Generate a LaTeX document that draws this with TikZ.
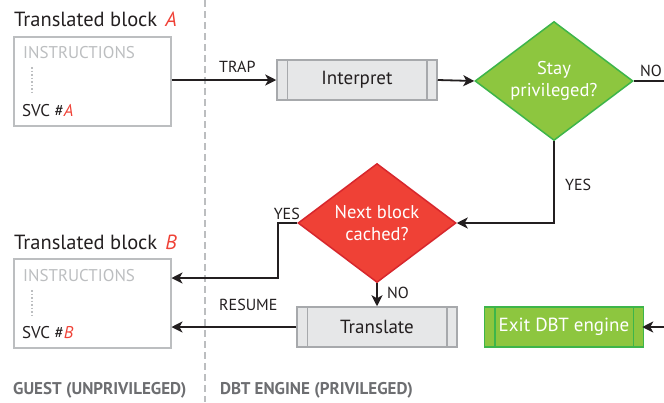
\documentclass[tikz,border=0pt]{standalone}
\usepackage{fontspec}
\setmainfont{PT Sans}
\usetikzlibrary{arrows.meta,shapes.geometric}
\definecolor{ink}{HTML}{231F20}
\definecolor{boxgray}{HTML}{BCBEC0}
\definecolor{procfill}{HTML}{E6E7E8}
\definecolor{procline}{HTML}{A7A9AC}
\definecolor{grn}{HTML}{8DC63F}
\definecolor{grnline}{HTML}{3DB54A}
\definecolor{rd}{HTML}{EF4136}
\definecolor{rdline}{HTML}{D7272D}
\definecolor{lbl}{HTML}{6D6E71}
\definecolor{accent}{HTML}{EF4136}
\tikzset{
  conn/.style={draw=ink, line width=1.8pt},
  arr/.style={conn, -{Stealth[length=11pt,width=11pt,inset=3pt]}},
  blockbox/.style={draw=boxgray, line width=1.5pt, minimum width=157pt, minimum height=89pt, inner sep=0pt},
  proc/.style={draw=procline, fill=procfill, line width=1.5pt, minimum width=160pt, minimum height=40pt, inner sep=0pt, font=\fontsize{19}{21}\selectfont, text=ink},
  exitbox/.style={draw=grnline, fill=grn, line width=1.5pt, minimum width=159pt, minimum height=40pt, inner sep=0pt, font=\fontsize{19}{21}\selectfont, text=white},
  dec/.style={diamond, aspect=1.33, inner sep=0pt, minimum width=158pt, minimum height=119pt, line width=1.5pt, text=white, align=center, font=\fontsize{18.5}{22}\selectfont},
  small/.style={font=\fontsize{16}{18}\selectfont, text=ink, inner sep=0pt},
  title/.style={font=\fontsize{20.5}{22}\selectfont, text=ink, anchor=base west, inner sep=0pt},
  foot/.style={font=\bfseries\fontsize{17}{19}\selectfont, text=lbl, anchor=base west, inner sep=0pt},
  instr/.style={anchor=base west, font=\fontsize{17}{19}\selectfont, inner sep=0pt},
}
\begin{document}
\begin{tikzpicture}[x=1pt,y=-1pt]
\useasboundingbox (0,0) rectangle (664,402);
% divider
\draw[boxgray, line width=1.5pt, dash pattern=on 7pt off 4pt] (205,0) -- (205,402);

% block A
\node[title] (tA) at (14,26) {Translated block\hspace{8pt}\textcolor{accent}{\itshape A}};
\node[blockbox, anchor=north west] (bA) at (13,36) {};
\node[instr, text=boxgray] (iA) at (23,58) {INSTRUCTIONS};
\draw[boxgray, line width=1.5pt, dotted] (32,67) -- (32,95);
\node[instr, text=ink] (sA) at (22,116) {SVC \#\textcolor{accent}{\itshape A}};

% block B
\node[title] (tB) at (14,249) {Translated block\hspace{8pt}\textcolor{accent}{\itshape B}};
\node[blockbox, anchor=north west] (bB) at (13,258) {};
\node[instr, text=boxgray] (iB) at (23,281) {INSTRUCTIONS};
\draw[boxgray, line width=1.5pt, dotted] (32,290) -- (32,318);
\node[instr, text=ink] (sB) at (22,338) {SVC \#\textcolor{accent}{\itshape B}};

% interpret
\node[proc] (interp) at (357,80) {Interpret};
\draw[procline, line width=1.5pt] ([xshift=11pt]interp.north west) -- ([xshift=11pt]interp.south west);
\draw[procline, line width=1.5pt] ([xshift=-11pt]interp.north east) -- ([xshift=-11pt]interp.south east);

% stay privileged
\node[dec, draw=grnline, fill=grn] (stay) at (554,81) {Stay\\privileged?};

% next block cached
\node[dec, draw=rdline, fill=rd] (next) at (377,223) {Next block\\cached?};

% translate
\node[proc] (trans) at (377,327) {Translate};
\draw[procline, line width=1.5pt] ([xshift=11pt]trans.north west) -- ([xshift=11pt]trans.south west);
\draw[procline, line width=1.5pt] ([xshift=-11pt]trans.north east) -- ([xshift=-11pt]trans.south east);

% exit
\node[exitbox] (exit) at (564,327) {Exit DBT engine};
\draw[grnline, line width=1.5pt] ([xshift=11pt]exit.north west) -- ([xshift=11pt]exit.south west);
\draw[grnline, line width=1.5pt] ([xshift=-11pt]exit.north east) -- ([xshift=-11pt]exit.south east);

% connectors
\draw[arr] (bA.east |- interp.west) -- (interp.west);
\node[small, anchor=base west] (traplbl) at (219,72) {TRAP};
\draw[arr] (interp.east) -- (stay.west);
\coordinate (noend) at (664,81);
\draw[conn] (stay.east) -- (noend);
\node[small, anchor=base west] (nolbl) at (640,76) {NO};
\draw[arr] (stay.south) |- (next.east);
\node[small, anchor=base west] (yes1) at (565,190) {YES};
\coordinate (yk) at (278,223);
\draw[arr] (next.west) -- (yk) |- (bB.east |- 0,278);
\node[small, anchor=base east] (yeslbl) at (300,219) {YES};
\draw[arr] (next.south) -- (trans.north);
\node[small, anchor=base west] (nolbl2) at (387,298) {NO};
\draw[arr] (trans.west) -- (bB.east |- trans.west);
\node[small, anchor=base west] (reslbl) at (219,310) {RESUME};
\coordinate (exin) at (664,327);
\draw[arr] (exin) -- ([xshift=-2pt]exit.east);

% footer
\node[foot] (g) at (13,394) {GUEST (UNPRIVILEGED)};
\node[foot] (d) at (220,394) {DBT ENGINE (PRIVILEGED)};
\end{tikzpicture}
\end{document}
